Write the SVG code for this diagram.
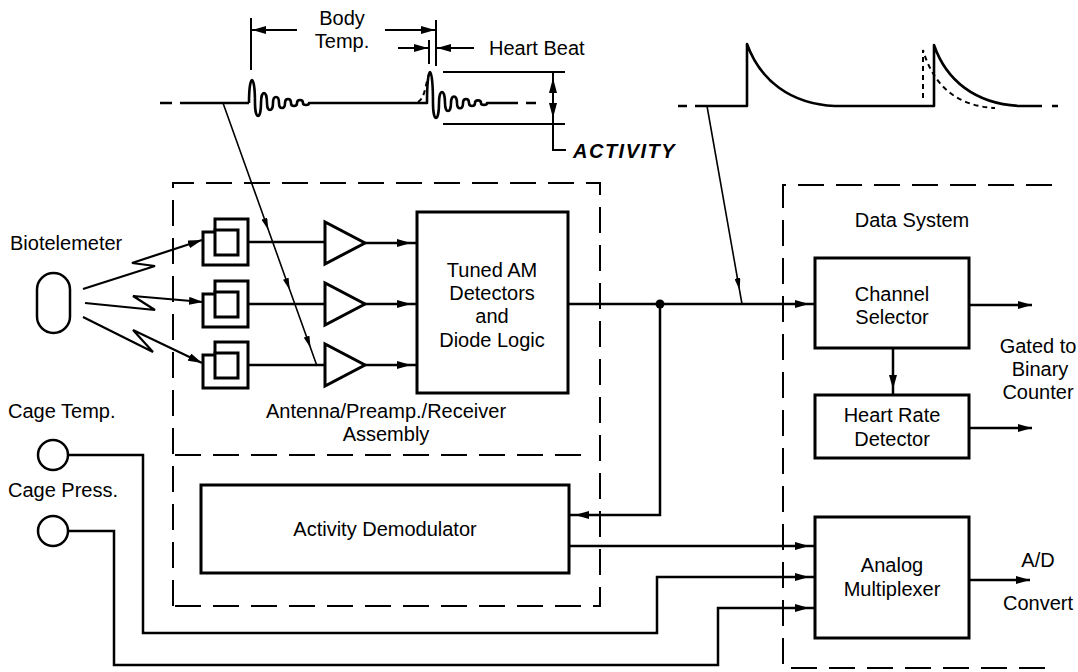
<svg xmlns="http://www.w3.org/2000/svg" xmlns:xlink="http://www.w3.org/1999/xlink" width="1078" height="672" viewBox="0 0 1078 672">
<style>
.t{font-family:"Liberation Sans",Arial,sans-serif;font-size:20px;fill:#000}
.c{text-anchor:middle}
.box{fill:none;stroke:#000;stroke-width:3;stroke-linejoin:miter}
.ln{fill:none;stroke:#000;stroke-width:2.5}
.thin{fill:none;stroke:#000;stroke-width:1.6}
.wave{fill:none;stroke:#000;stroke-width:2.6;stroke-linejoin:round}
.dash{fill:none;stroke:#000;stroke-width:2;stroke-dasharray:26 12}
.sd{fill:none;stroke:#000;stroke-width:2;stroke-dasharray:5 4}
.act{font-family:"Liberation Sans",Arial,sans-serif;font-size:20px;font-weight:bold;font-style:italic;letter-spacing:1.5px}
</style>
<defs>
<marker id="ah" markerUnits="userSpaceOnUse" markerWidth="14" markerHeight="8" refX="20" refY="4" orient="auto"><path d="M0,0 L14,4 L0,8 Z" fill="#000"/></marker>
<marker id="at" markerUnits="userSpaceOnUse" markerWidth="14" markerHeight="8" refX="14" refY="4" orient="auto"><path d="M0,0 L14,4 L0,8 Z" fill="#000"/></marker>
<marker id="am" markerUnits="userSpaceOnUse" markerWidth="12" markerHeight="6" refX="12" refY="3" orient="auto"><path d="M0,0 L12,3 L0,6 Z" fill="#000"/></marker>
<g id="antenna">
<path class="box" d="M203,23 V-10 H215 M215,-12 V-23 H248 V23 H201.5"/>
<rect class="box" x="215" y="-12" width="23" height="25"/>
</g>
<polygon id="amp" class="box" points="325,-21 325,21 365,0"/>
</defs>

<!-- top waveforms -->
<g id="waveform-left">
<path class="wave" d="M160,103 H172 M180,103 H249"/>
<path class="wave" d="M249,103 C249,72.4 255,72.4 255,103 C255,120.3 261,120.3 261,103 C261,89.7 267,89.7 267,103 C267,112.3 273,112.3 273,103 C273,95 279,95 279,103 C279,109.7 285,109.7 285,103 C285,97.7 291,97.7 291,103 C291,107 297,107 297,103 C297,99 303,99 303,103 C303,105.7 309,105.7 309,103 L427,103 C427,61.8 433,61.8 433,103 C433,123 439,123 439,103 C439,88.3 445,88.3 445,103 C445,113.6 451,113.6 451,103 C451,94.3 457,94.3 457,103 C457,110 463,110 463,103 C463,97.7 469,97.7 469,103 C469,107 475,107 475,103 C475,99.5 481,99.5 481,103 C481,105.5 487,105.5 487,103 L518,103 M526,103 H536"/>
<path class="sd" d="M418,102 C425,98 425,86 429,74"/>
</g>
<g id="dimensions">
<path class="ln" style="stroke-width:2" d="M251,18 V70 M436,20 V66 M429,40 V64 M443,72 H565 M443,124 H565 M553,72 V150 H566"/>
<path class="ln" style="stroke-width:2" marker-end="url(#at)" d="M297,30 H252"/>
<path class="ln" style="stroke-width:2" marker-end="url(#at)" d="M385,30 H435"/>
<path class="ln" style="stroke-width:2" marker-end="url(#at)" d="M398,48 H428"/>
<path class="ln" style="stroke-width:2" marker-end="url(#at)" d="M474,48 H437"/>
<polygon points="553,78 549,93 557,93" fill="#000"/>
<polygon points="553,118 549,103 557,103" fill="#000"/>
<text class="t c" x="342" y="25">Body</text>
<text class="t c" x="342" y="48">Temp.</text>
<text class="t" x="489" y="55">Heart Beat</text>
<text class="act" x="573" y="158">ACTIVITY</text>
</g>
<g id="waveform-right">
<path class="wave" d="M678,106 H687 M695,106 H747 V44 C760,80 790,104 835,106 H934 V45 C946,80 975,104 1020,106 H1042 M1052,106 H1058"/>
<path class="sd" d="M923,98 V50 C933,84 955,106 995,108"/>
</g>

<!-- dashed assemblies -->
<g id="antenna-assembly">
<path class="dash" d="M173,606 V183 H600 V606 H173"/>
<path class="dash" d="M175,455 H590"/>
<text class="t c" x="386" y="418">Antenna/Preamp./Receiver</text>
<text class="t c" x="386" y="441">Assembly</text>
</g>
<g id="data-system">
<path class="dash" d="M1052,185 H783 V668 H1050"/>
<text class="t c" x="912" y="227">Data System</text>
</g>

<!-- nodes -->
<g id="biotelemeter">
<rect class="box" style="stroke-width:2.5" x="37" y="273" width="33" height="60" rx="16.5" ry="16.5"/>
<text class="t" x="10" y="250">Biotelemeter</text>
</g>
<g id="antenna1" transform="translate(0,242)"><use xlink:href="#antenna"/></g>
<g id="antenna2" transform="translate(0,304)"><use xlink:href="#antenna"/></g>
<g id="antenna3" transform="translate(0,365)"><use xlink:href="#antenna"/></g>
<g id="amp1" transform="translate(0,243)"><use xlink:href="#amp"/></g>
<g id="amp2" transform="translate(0,304)"><use xlink:href="#amp"/></g>
<g id="amp3" transform="translate(0,365)"><use xlink:href="#amp"/></g>
<g id="tuned-am">
<rect class="box" x="417" y="212" width="151" height="181"/>
<text class="t c" x="492" y="277">Tuned AM</text>
<text class="t c" x="492" y="300">Detectors</text>
<text class="t c" x="492" y="323">and</text>
<text class="t c" x="492" y="347">Diode Logic</text>
</g>
<g id="activity-demodulator">
<rect class="box" x="201" y="485" width="368" height="88"/>
<text class="t c" x="385" y="536">Activity Demodulator</text>
</g>
<g id="cage-temp">
<circle class="box" style="stroke-width:2.5" cx="53" cy="455" r="15"/>
<text class="t" x="8" y="418">Cage Temp.</text>
</g>
<g id="cage-press">
<circle class="box" style="stroke-width:2.5" cx="53" cy="531" r="15"/>
<text class="t" x="8" y="497">Cage Press.</text>
</g>
<g id="channel-selector">
<rect class="box" x="815" y="258" width="154" height="90"/>
<text class="t c" x="892" y="301">Channel</text>
<text class="t c" x="892" y="324">Selector</text>
</g>
<g id="heart-rate-detector">
<rect class="box" x="815" y="395" width="154" height="63"/>
<text class="t c" x="892" y="422">Heart Rate</text>
<text class="t c" x="892" y="446">Detector</text>
</g>
<g id="analog-multiplexer">
<rect class="box" x="815" y="517" width="154" height="121"/>
<text class="t c" x="892" y="572">Analog</text>
<text class="t c" x="892" y="596">Multiplexer</text>
</g>
<g id="outputs-text">
<text class="t c" x="1038" y="353">Gated to</text>
<text class="t c" x="1040" y="376">Binary</text>
<text class="t c" x="1038" y="399">Counter</text>
<text class="t c" x="1038" y="567">A/D</text>
<text class="t c" x="1038" y="610">Convert</text>
</g>

<!-- connectors -->
<g id="connectors">
<path class="ln" style="stroke-width:2.2" marker-end="url(#at)" d="M83,289 L155,266 L132,263 L202,240"/>
<path class="ln" style="stroke-width:2.2" marker-end="url(#at)" d="M85,303 L155,310 L133,296 L203,302"/>
<path class="ln" style="stroke-width:2.2" marker-end="url(#at)" d="M83,317 L153,352 L133,330 L202,363"/>
<path class="ln" d="M248,242 H325 M248,304 H325 M248,365 H325"/>
<path class="ln" marker-end="url(#ah)" d="M365,243 H417"/>
<path class="ln" marker-end="url(#ah)" d="M365,304 H417"/>
<path class="ln" marker-end="url(#ah)" d="M365,365 H417"/>
<path class="thin" marker-mid="url(#am)" d="M223,103 L268.4,230 L289.8,290 L310.6,348 L317,366"/>
<path class="thin" marker-mid="url(#am)" d="M707,106 L739.5,290 L742,304"/>
<path class="ln" marker-end="url(#ah)" d="M568,304 H815"/>
<circle cx="660" cy="304" r="4.5" fill="#000"/>
<path class="ln" marker-end="url(#ah)" d="M660,304 V515 H569"/>
<path class="ln" marker-end="url(#ah)" d="M569,546 H815"/>
<path class="ln" marker-end="url(#ah)" d="M68,455 H143 V633 H657 V577 H815"/>
<path class="ln" marker-end="url(#ah)" d="M68,531 H114 V665 H718 V608 H815"/>
<path class="ln" marker-end="url(#ah)" d="M893,348 V395"/>
<path class="ln" marker-end="url(#at)" d="M969,305 H1032"/>
<path class="ln" marker-end="url(#at)" d="M969,428 H1032"/>
<path class="ln" marker-end="url(#at)" d="M969,580 H1030"/>
</g>
</svg>
